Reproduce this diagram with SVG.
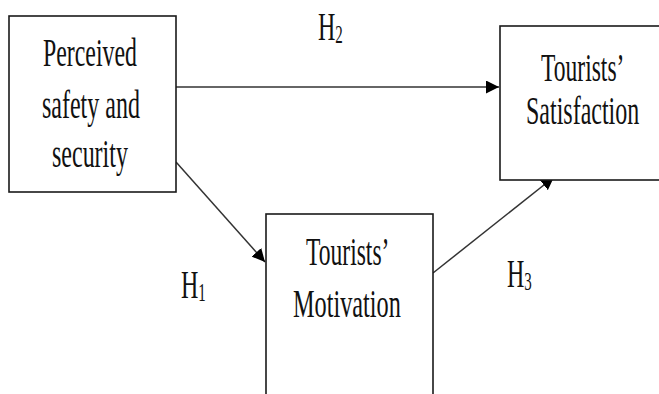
<svg xmlns="http://www.w3.org/2000/svg" width="659" height="394" viewBox="0 0 659 394">
<defs>
<style>
.box{fill:#fff;stroke:#1a1a1a;stroke-width:1.6}
.edge{fill:none;stroke:#333;stroke-width:1.5}
.t{font-family:"Liberation Serif","Times New Roman",serif;font-size:40px;fill:#111}
.sub{font-size:25px}
</style>
<marker id="arr" viewBox="0 0 10 10" refX="10" refY="5" markerWidth="13" markerHeight="13" markerUnits="userSpaceOnUse" orient="auto">
<path d="M0,0 L10,5 L0,10 z" fill="#000"/>
</marker>
</defs>
<rect width="659" height="394" fill="#fff"/>
<g id="connectors">
<line class="edge" x1="176" y1="87" x2="499" y2="87" marker-end="url(#arr)"/>
<line class="edge" x1="176" y1="162" x2="265" y2="262" marker-end="url(#arr)"/>
<line class="edge" x1="433" y1="273" x2="554" y2="177" marker-end="url(#arr)"/>
</g>
<g id="node-safety">
<rect class="box" x="9" y="16" width="167" height="176"/>
<text class="t" transform="translate(43,66) scale(0.596,1)">Perceived</text>
<text class="t" transform="translate(42,118) scale(0.6,1)">safety and</text>
<text class="t" transform="translate(52,167) scale(0.6,1)">security</text>
</g>
<g id="node-satisfaction">
<rect class="box" x="500" y="26" width="175" height="154"/>
<text class="t" transform="translate(541,81) scale(0.589,1)">Tourists’</text>
<text class="t" transform="translate(526,124) scale(0.6,1)">Satisfaction</text>
</g>
<g id="node-motivation">
<rect class="box" x="266" y="214" width="167" height="200"/>
<text class="t" transform="translate(306,265) scale(0.589,1)">Tourists’</text>
<text class="t" transform="translate(293,317) scale(0.607,1)">Motivation</text>
</g>
<g id="labels">
<text class="t" transform="translate(318,40) scale(0.6,1)">H<tspan class="sub" dy="3">2</tspan></text>
<text class="t" transform="translate(181,298) scale(0.6,1)">H<tspan class="sub" dy="3">1</tspan></text>
<text class="t" transform="translate(507,287) scale(0.6,1)">H<tspan class="sub" dy="3">3</tspan></text>
</g>
</svg>
